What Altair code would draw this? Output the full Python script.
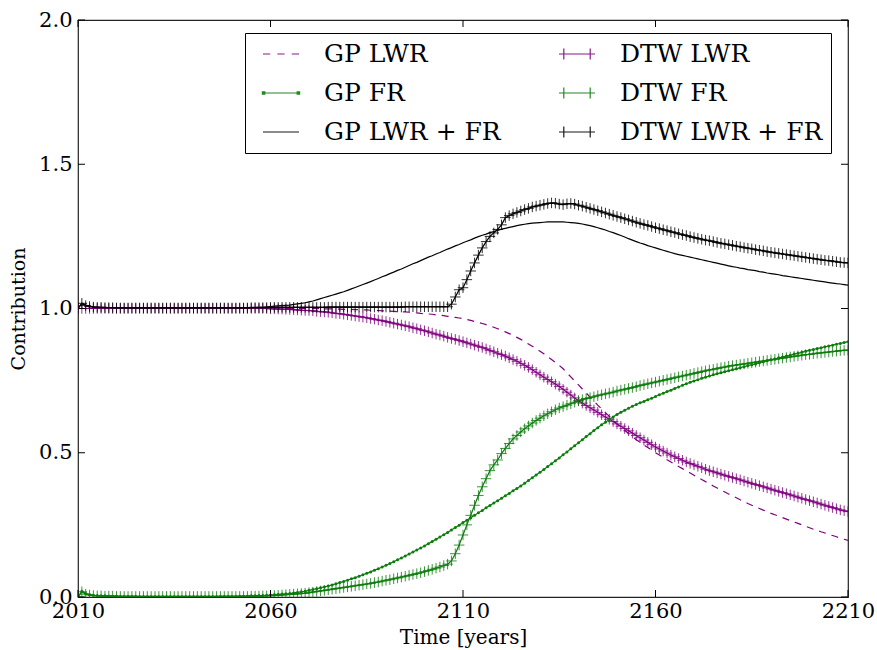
import altair as alt
import pandas as pd

# ---- data: yearly contributions, 2010-2210 ----
years = list(range(2010, 2211))

gp_lwr = (
    [1.0] * 60
    + [1.0, 1.0, 1.0, 0.999, 0.999, 0.999, 0.999, 0.998, 0.998, 0.997]
    + [0.997, 0.997, 0.996, 0.996, 0.995, 0.995, 0.994, 0.993, 0.993, 0.992]
    + [0.992, 0.991, 0.990, 0.989, 0.989, 0.988, 0.987, 0.986, 0.985, 0.983]
    + [0.982, 0.981, 0.980, 0.978, 0.977, 0.975, 0.973, 0.971, 0.969, 0.967]
    + [0.965, 0.962, 0.959, 0.955, 0.952, 0.948, 0.944, 0.940, 0.935, 0.930]
    + [0.925, 0.919, 0.913, 0.907, 0.900, 0.893, 0.885, 0.877, 0.869, 0.861]
    + [0.852, 0.843, 0.833, 0.823, 0.813, 0.803, 0.791, 0.777, 0.763, 0.749]
    + [0.735, 0.721, 0.707, 0.693, 0.679, 0.665, 0.652, 0.639, 0.626, 0.613]
    + [0.600, 0.589, 0.578, 0.567, 0.556, 0.545, 0.536, 0.527, 0.518, 0.509]
    + [0.500, 0.492, 0.484, 0.476, 0.468, 0.460, 0.452, 0.445, 0.437, 0.430]
    + [0.422, 0.415, 0.407, 0.400, 0.392, 0.385, 0.378, 0.371, 0.364, 0.357]
    + [0.350, 0.344, 0.337, 0.331, 0.324, 0.318, 0.312, 0.307, 0.301, 0.296]
    + [0.290, 0.285, 0.280, 0.275, 0.270, 0.265, 0.260, 0.255, 0.250, 0.245]
    + [0.240, 0.235, 0.231, 0.226, 0.222, 0.217, 0.213, 0.209, 0.204, 0.200]
    + [0.196]
)

gp_fr = (
    [0.0, 0.020, 0.012, 0.008, 0.006, 0.005, 0.004, 0.004, 0.003, 0.003]
    + [0.003, 0.002, 0.002, 0.002, 0.002, 0.002, 0.001, 0.001, 0.001, 0.001]
    + [0.001] * 10
    + [0.001, 0.001, 0.001, 0.001, 0.001, 0.001, 0.001, 0.002, 0.002, 0.002]
    + [0.002, 0.002, 0.003, 0.003, 0.003, 0.004, 0.004, 0.005, 0.005, 0.006]
    + [0.007, 0.008, 0.009, 0.010, 0.011, 0.012, 0.014, 0.016, 0.018, 0.020]
    + [0.023, 0.026, 0.029, 0.032, 0.035, 0.038, 0.042, 0.046, 0.050, 0.054]
    + [0.058, 0.063, 0.067, 0.072, 0.077, 0.082, 0.087, 0.093, 0.098, 0.104]
    + [0.110, 0.116, 0.122, 0.129, 0.135, 0.142, 0.149, 0.156, 0.163, 0.170]
    + [0.177, 0.185, 0.192, 0.200, 0.208, 0.216, 0.224, 0.232, 0.241, 0.249]
    + [0.258, 0.266, 0.275, 0.283, 0.292, 0.300, 0.309, 0.317, 0.326, 0.334]
    + [0.342, 0.351, 0.359, 0.368, 0.376, 0.385, 0.394, 0.404, 0.413, 0.423]
    + [0.432, 0.442, 0.452, 0.462, 0.472, 0.482, 0.493, 0.503, 0.514, 0.524]
    + [0.535, 0.545, 0.556, 0.566, 0.577, 0.587, 0.597, 0.606, 0.615, 0.624]
    + [0.633, 0.640, 0.647, 0.654, 0.661, 0.667, 0.673, 0.678, 0.684, 0.689]
    + [0.695, 0.701, 0.706, 0.712, 0.717, 0.723, 0.728, 0.734, 0.739, 0.744]
    + [0.749, 0.753, 0.758, 0.762, 0.766, 0.770, 0.774, 0.777, 0.781, 0.784]
    + [0.788, 0.791, 0.795, 0.798, 0.802, 0.805, 0.808, 0.812, 0.815, 0.819]
    + [0.822, 0.825, 0.829, 0.832, 0.835, 0.838, 0.842, 0.845, 0.848, 0.852]
    + [0.855, 0.858, 0.861, 0.864, 0.867, 0.870, 0.873, 0.876, 0.879, 0.882]
    + [0.885]
)

gp_total = (
    [1.0, 1.018, 1.012, 1.008, 1.006, 1.005, 1.004, 1.004, 1.003, 1.003]
    + [1.003, 1.002, 1.002, 1.002, 1.002, 1.002, 1.001, 1.001, 1.001, 1.001]
    + [1.001] * 10
    + [1.001, 1.001, 1.001, 1.001, 1.001, 1.001, 1.001, 1.002, 1.002, 1.002]
    + [1.002, 1.002, 1.003, 1.003, 1.003, 1.004, 1.004, 1.005, 1.005, 1.006]
    + [1.007, 1.008, 1.009, 1.010, 1.011, 1.012, 1.014, 1.016, 1.018, 1.020]
    + [1.023, 1.026, 1.030, 1.034, 1.038, 1.042, 1.046, 1.050, 1.054, 1.058]
    + [1.063, 1.068, 1.073, 1.078, 1.083, 1.088, 1.093, 1.099, 1.104, 1.110]
    + [1.115, 1.121, 1.126, 1.132, 1.137, 1.143, 1.149, 1.155, 1.160, 1.166]
    + [1.172, 1.178, 1.183, 1.189, 1.194, 1.200, 1.206, 1.211, 1.217, 1.222]
    + [1.228, 1.233, 1.238, 1.244, 1.249, 1.254, 1.258, 1.263, 1.267, 1.271]
    + [1.275, 1.278, 1.281, 1.284, 1.287, 1.290, 1.292, 1.294, 1.296, 1.297]
    + [1.298, 1.299, 1.300, 1.300, 1.300, 1.300, 1.300, 1.299, 1.298, 1.297]
    + [1.295, 1.293, 1.290, 1.287, 1.284, 1.280, 1.276, 1.272, 1.267, 1.263]
    + [1.258, 1.253, 1.248, 1.242, 1.237, 1.232, 1.227, 1.223, 1.218, 1.214]
    + [1.210, 1.206, 1.202, 1.198, 1.194, 1.190, 1.187, 1.184, 1.181, 1.178]
    + [1.175, 1.172, 1.169, 1.166, 1.163, 1.160, 1.157, 1.154, 1.151, 1.148]
    + [1.145, 1.143, 1.140, 1.138, 1.135, 1.133, 1.131, 1.128, 1.126, 1.123]
    + [1.121, 1.119, 1.117, 1.114, 1.112, 1.110, 1.108, 1.106, 1.104, 1.102]
    + [1.100, 1.098, 1.096, 1.094, 1.092, 1.090, 1.088, 1.086, 1.085, 1.083]
    + [1.081]
)

dtw_lwr = (
    [1.0] * 50
    + [0.999, 0.999, 0.998, 0.998, 0.997, 0.997, 0.996, 0.995, 0.994, 0.993]
    + [0.993, 0.992, 0.990, 0.989, 0.988, 0.987, 0.985, 0.983, 0.982, 0.980]
    + [0.978, 0.976, 0.974, 0.972, 0.970, 0.968, 0.965, 0.963, 0.960, 0.958]
    + [0.955, 0.952, 0.949, 0.946, 0.943, 0.940, 0.937, 0.933, 0.930, 0.926]
    + [0.923, 0.919, 0.915, 0.911, 0.908, 0.904, 0.900, 0.896, 0.893, 0.889]
    + [0.885, 0.881, 0.877, 0.873, 0.869, 0.865, 0.860, 0.855, 0.850, 0.845]
    + [0.840, 0.835, 0.829, 0.823, 0.817, 0.810, 0.803, 0.796, 0.788, 0.779]
    + [0.770, 0.762, 0.754, 0.746, 0.738, 0.730, 0.720, 0.710, 0.700, 0.690]
    + [0.680, 0.672, 0.664, 0.656, 0.648, 0.640, 0.632, 0.624, 0.616, 0.608]
    + [0.600, 0.592, 0.584, 0.576, 0.568, 0.560, 0.552, 0.544, 0.536, 0.528]
    + [0.520, 0.513, 0.506, 0.499, 0.492, 0.486, 0.480, 0.474, 0.468, 0.463]
    + [0.458, 0.453, 0.448, 0.443, 0.438, 0.434, 0.430, 0.426, 0.422, 0.418]
    + [0.414, 0.410, 0.406, 0.402, 0.398, 0.394, 0.390, 0.386, 0.382, 0.378]
    + [0.374, 0.370, 0.366, 0.362, 0.358, 0.354, 0.350, 0.346, 0.342, 0.338]
    + [0.334, 0.330, 0.326, 0.322, 0.318, 0.314, 0.310, 0.306, 0.302, 0.299]
    + [0.296]
)

dtw_fr = (
    [0.0, 0.018, 0.010, 0.007, 0.005, 0.004, 0.004, 0.003, 0.003, 0.003]
    + [0.002] * 30
    + [0.002, 0.002, 0.002, 0.002, 0.002, 0.003, 0.003, 0.003, 0.004, 0.004]
    + [0.005, 0.005, 0.006, 0.007, 0.008, 0.009, 0.010, 0.011, 0.012, 0.013]
    + [0.015, 0.017, 0.019, 0.021, 0.023, 0.025, 0.027, 0.029, 0.031, 0.033]
    + [0.035, 0.037, 0.039, 0.041, 0.043, 0.045, 0.047, 0.050, 0.052, 0.055]
    + [0.058, 0.060, 0.063, 0.066, 0.069, 0.072, 0.075, 0.078, 0.081, 0.084]
    + [0.088, 0.092, 0.096, 0.100, 0.104, 0.109, 0.114, 0.125, 0.150, 0.180]
    + [0.215, 0.250, 0.283, 0.318, 0.352, 0.382, 0.410, 0.438, 0.458, 0.475]
    + [0.497, 0.515, 0.532, 0.548, 0.560, 0.572, 0.583, 0.593, 0.603, 0.612]
    + [0.620, 0.628, 0.635, 0.642, 0.649, 0.655, 0.660, 0.665, 0.670, 0.675]
    + [0.680, 0.684, 0.688, 0.691, 0.694, 0.698, 0.701, 0.704, 0.707, 0.710]
    + [0.714, 0.717, 0.720, 0.723, 0.726, 0.729, 0.733, 0.736, 0.739, 0.742]
    + [0.745, 0.748, 0.751, 0.754, 0.757, 0.760, 0.763, 0.766, 0.769, 0.772]
    + [0.775, 0.778, 0.781, 0.784, 0.787, 0.789, 0.792, 0.795, 0.797, 0.800]
    + [0.802, 0.804, 0.806, 0.808, 0.810, 0.812, 0.814, 0.816, 0.818, 0.820]
    + [0.822, 0.824, 0.826, 0.828, 0.830, 0.832, 0.834, 0.836, 0.838, 0.840]
    + [0.841, 0.843, 0.845, 0.846, 0.848, 0.849, 0.851, 0.852, 0.854, 0.855]
    + [0.856]
)

dtw_total = (
    [1.0, 1.018, 1.010, 1.007, 1.005, 1.004, 1.004, 1.003, 1.003, 1.003]
    + [1.002] * 30
    + [1.002, 1.002, 1.002, 1.002, 1.002, 1.003, 1.003, 1.003, 1.003, 1.003]
    + [1.004] * 10
    + [1.004, 1.004, 1.004, 1.004, 1.004, 1.005, 1.005, 1.005, 1.005, 1.005]
    + [1.005] * 10
    + [1.005, 1.005, 1.005, 1.005, 1.005, 1.006, 1.006, 1.006, 1.006, 1.006]
    + [1.006, 1.006, 1.006, 1.006, 1.006, 1.006, 1.006, 1.015, 1.040, 1.065]
    + [1.072, 1.100, 1.130, 1.158, 1.185, 1.210, 1.232, 1.250, 1.262, 1.274]
    + [1.290, 1.315, 1.322, 1.328, 1.333, 1.338, 1.343, 1.347, 1.352, 1.355]
    + [1.358, 1.361, 1.364, 1.366, 1.365, 1.362, 1.360, 1.363, 1.364, 1.362]
    + [1.358, 1.355, 1.351, 1.347, 1.343, 1.339, 1.335, 1.331, 1.327, 1.323]
    + [1.319, 1.315, 1.311, 1.307, 1.303, 1.299, 1.295, 1.291, 1.288, 1.284]
    + [1.280, 1.277, 1.273, 1.270, 1.266, 1.263, 1.259, 1.256, 1.253, 1.249]
    + [1.246, 1.243, 1.240, 1.237, 1.235, 1.232, 1.229, 1.226, 1.224, 1.221]
    + [1.219, 1.216, 1.214, 1.211, 1.209, 1.207, 1.204, 1.202, 1.200, 1.197]
    + [1.195, 1.193, 1.191, 1.189, 1.187, 1.185, 1.183, 1.181, 1.179, 1.177]
    + [1.175, 1.173, 1.171, 1.169, 1.167, 1.166, 1.164, 1.162, 1.160, 1.159]
    + [1.158]
)

x_ticks = [2010, 2060, 2110, 2160, 2210]
y_ticks = [0.0, 0.5, 1.0, 1.5, 2.0]

# legend order: GP entries in the first column, DTW entries in the second
names = ["GP LWR", "GP FR", "GP LWR + FR", "DTW LWR", "DTW FR", "DTW LWR + FR"]
PURPLE, GREEN, BLACK = "#800080", "#0a7d0a", "#000000"
colors = [PURPLE, GREEN, BLACK, PURPLE, GREEN, BLACK]
color_of = dict(zip(names, colors))

# legend handles drawn as small paths: line, dashes, end markers
PLUS_HANDLE = "M-1.5,0H1.5M-1.1,-0.45V0.45M1.1,-0.45V0.45M-1.32,0H-0.88M0.88,0H1.32"
DASH_HANDLE = "M-1.5,0H-0.9M-0.3,0H0.3M0.9,0H1.5"
DOT_HANDLE = "M-1.5,0H1.5M-1.55,-0.1H-1.35V0.1H-1.55ZM1.35,-0.1H1.55V0.1H1.35Z"
LINE_HANDLE = "M-1.5,0H1.5"
handles = [DASH_HANDLE, DOT_HANDLE, LINE_HANDLE, PLUS_HANDLE, PLUS_HANDLE, PLUS_HANDLE]

series = {
    "GP LWR": gp_lwr,
    "GP FR": gp_fr,
    "GP LWR + FR": gp_total,
    "DTW LWR": dtw_lwr,
    "DTW FR": dtw_fr,
    "DTW LWR + FR": dtw_total,
}
df = pd.concat(
    [
        pd.DataFrame({"year": years, "value": vals, "series": name, "clr": color_of[name]})
        for name, vals in series.items()
    ],
    ignore_index=True,
)

W, H = 770, 577
FONT = "DejaVu Serif"

x_enc = alt.X(
    "year:Q",
    scale=alt.Scale(domain=[2010, 2210], nice=False),
    axis=alt.Axis(
        values=x_ticks, format="d", title="Time [years]", ticks=False, domain=False,
        grid=False, labelFont=FONT, labelFontSize=21, labelColor="black",
        labelPadding=3, titleFont=FONT, titleFontSize=20, titleFontWeight="normal",
        titleColor="black", titlePadding=6, labelFlush=False,
    ),
)
y_enc = alt.Y(
    "value:Q",
    scale=alt.Scale(domain=[0, 2], nice=False),
    axis=alt.Axis(
        values=y_ticks, format=".1f", title="Contribution", ticks=False, domain=False,
        grid=False, labelFont=FONT, labelFontSize=21, labelColor="black",
        labelPadding=6, titleFont=FONT, titleFontSize=19, titleFontWeight="normal",
        titleColor="black", titlePadding=10, labelFlush=False,
    ),
)
raw_color = alt.Color("clr:N", scale=None)

base = alt.Chart(df)

dashed_line = base.transform_filter(alt.datum.series == "GP LWR").mark_line(
    strokeWidth=1.2, strokeDash=[7, 6], clip=True
).encode(x=x_enc, y=y_enc, color=raw_color, detail="series:N")

solid_lines = base.transform_filter(alt.datum.series != "GP LWR").mark_line(
    strokeWidth=1.2, clip=True
).encode(x=x_enc, y=y_enc, color=raw_color, detail="series:N")

plus_marks = base.transform_filter(
    alt.FieldOneOfPredicate(field="series", oneOf=["DTW LWR", "DTW FR", "DTW LWR + FR"])
).mark_point(
    shape="M-1,0H1M0,-1V1", size=110, filled=False, strokeWidth=0.9, opacity=0.9, clip=True
).encode(x=x_enc, y=y_enc, color=raw_color)

dot_marks = base.transform_filter(alt.datum.series == "GP FR").mark_point(
    shape="circle", size=9, filled=True, opacity=1, clip=True
).encode(x=x_enc, y=y_enc, color=raw_color)

legend_layer = base.transform_filter("false").mark_point(filled=False, strokeWidth=1.2).encode(
    x=x_enc, y=y_enc,
    color=alt.Color(
        "series:N", scale=alt.Scale(domain=names, range=colors),
        legend=alt.Legend(
            orient="none", legendX=167, legendY=13, columns=2, title=None,
            labelFont=FONT, labelFontSize=25, labelColor="black", labelLimit=400,
            symbolSize=576, symbolStrokeWidth=1.2, symbolOffset=15, labelOffset=30,
            rowPadding=13, columnPadding=48, padding=8,
            strokeColor="black", fillColor="white", cornerRadius=0,
        ),
    ),
    shape=alt.Shape("series:N", scale=alt.Scale(domain=names, range=handles)),
)

# inward tick marks on all four sides of the frame
xt = alt.Chart(pd.DataFrame({"year": x_ticks}))
yt = alt.Chart(pd.DataFrame({"value": y_ticks}))
TICK = 7
tick_bottom = xt.mark_rule(color="black", strokeWidth=1).encode(
    x=x_enc, y=alt.value(H), y2=alt.value(H - TICK))
tick_top = xt.mark_rule(color="black", strokeWidth=1).encode(
    x=x_enc, y=alt.value(0), y2=alt.value(TICK))
tick_left = yt.mark_rule(color="black", strokeWidth=1).encode(
    y=y_enc, x=alt.value(0), x2=alt.value(TICK))
tick_right = yt.mark_rule(color="black", strokeWidth=1).encode(
    y=y_enc, x=alt.value(W), x2=alt.value(W - TICK))

chart = alt.layer(
    dashed_line, solid_lines, plus_marks, dot_marks, legend_layer,
    tick_bottom, tick_top, tick_left, tick_right,
).properties(
    width=W, height=H,
    autosize=alt.AutoSizeParams(type="none"),
    padding={"left": 78, "top": 20, "right": 29, "bottom": 53},
    background="white",
).configure_view(
    stroke="#222222", strokeWidth=1.2
)

chart.save("out.html", embed_options={"renderer": "svg", "actions": False})
